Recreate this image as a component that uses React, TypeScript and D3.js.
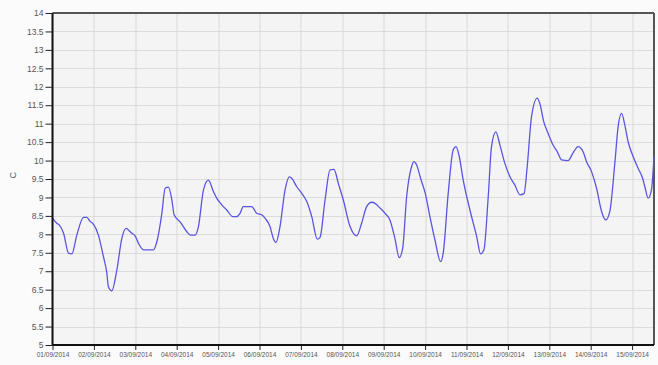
import React, { useEffect, useRef } from 'react';
import * as d3 from 'd3';

// hours since 01/09/2014 00:00 and temperature (C)
const hours = [
  0, 2.5, 4, 6.4, 9.3, 11.2, 14.1, 18, 19.9, 21.8, 23.8, 26.6, 29.5, 31.5, 32.4, 34.4,
  37.3, 40.2, 42.7, 44, 46, 47.9, 49.8, 52.7, 58.5, 60.5, 63.4, 65.3, 67.2, 69.2, 70.5,
  74, 77.9, 79.8, 82.7, 84.6, 87.5, 90.4, 93.3, 95.2, 98.1, 101, 104.5, 106.8, 108.7,
  110.6, 115.5, 118.4, 121.3, 123.2, 126.1, 128, 129.6, 131.9, 134.8, 137.3, 138.7,
  141.6, 144.5, 147.4, 150.3, 153.5, 155.1, 158, 160.9, 163.2, 165.7, 168.6, 172.5,
  176.3, 179.2, 182.1, 185, 187, 189.9, 192.8, 195.6, 198.5, 201, 203, 205.3, 208.2,
  209.5, 211.1, 213.5, 216.1, 218.8, 221.7, 225, 226.5, 229.4, 232.3, 233.9, 235.8,
  238.1, 242, 245.9, 248.2, 250.1, 252.6, 254.5, 257, 259.4, 262.2, 265.2, 268, 271,
  273.4, 275.2, 277.7, 281, 282.5, 284.8, 287.3, 290.2, 292.6, 295.1, 298.9, 301.8,
  304.7, 307.6, 309.6, 312.5, 315.4, 318.3, 320.8, 323.1, 326, 327.9, 329.9, 331.8,
  333.7, 336.6, 339.5, 342.1, 343.4, 345.3, 347.2, 348.7,
];
const temps = [
  8.44, 8.3, 8.25, 8.03, 7.49, 7.47, 7.98, 8.46, 8.46, 8.35, 8.27, 7.98, 7.4, 6.95, 6.58, 6.47,
  7.03, 7.89, 8.16, 8.12, 8.03, 7.96, 7.76, 7.58, 7.58, 7.8, 8.57, 9.25, 9.28, 8.93, 8.53,
  8.34, 8.07, 7.98, 7.98, 8.21, 9.2, 9.47, 9.16, 8.98, 8.8, 8.66, 8.48, 8.48, 8.57,
  8.75, 8.75, 8.57, 8.53, 8.44, 8.21, 7.89, 7.78, 8.21, 9.2, 9.56, 9.52,
  9.29, 9.11, 8.89, 8.48, 7.87, 7.92, 8.93, 9.75, 9.76, 9.38, 8.93, 8.21,
  7.96, 8.3, 8.75, 8.87, 8.84, 8.71, 8.57, 8.39, 7.89, 7.37, 7.62, 9.02, 9.84,
  9.97, 9.88, 9.5, 9.11, 8.48, 7.85, 7.26, 7.49, 9.11, 10.29, 10.38, 10.11,
  9.47, 8.66, 7.94, 7.47, 7.58, 9.02, 10.38, 10.78, 10.42, 9.93, 9.56, 9.34, 9.07,
  9.11, 9.84, 11.19, 11.69, 11.55, 11.05, 10.74, 10.42, 10.24, 10.02, 10.0, 10.21,
  10.38, 10.24, 9.97, 9.7, 9.25, 8.62, 8.39, 8.62, 9.93, 10.92, 11.28, 10.96,
  10.51, 10.11, 9.79, 9.52, 9.29, 8.98, 9.2, 10.1,
];
const dayLabels = [
  '01/09/2014', '02/09/2014', '03/09/2014', '04/09/2014', '05/09/2014',
  '06/09/2014', '07/09/2014', '08/09/2014', '09/09/2014', '10/09/2014',
  '11/09/2014', '12/09/2014', '13/09/2014', '14/09/2014', '15/09/2014',
];
const yTicks = d3.range(5, 14.01, 0.5);

const App = () => {
  const ref = useRef<SVGSVGElement>(null);

  useEffect(() => {
    const W = 658, H = 365;
    const margin = { top: 13, right: 4, bottom: 20, left: 52.5 };
    const width = W - margin.left - margin.right;
    const height = H - margin.top - margin.bottom;

    const svg = d3.select(ref.current);
    svg.selectAll('*').remove();

    const g = svg.append('g').attr('transform', `translate(${margin.left},${margin.top})`);

    const t0 = new Date(2014, 8, 1);
    const toDate = (h: number) => new Date(t0.getTime() + h * 3600e3);
    const data = hours.map((h, i) => ({ date: toDate(h), value: temps[i] }));

    const xScale = d3.scaleTime().domain([t0, toDate(348.7)]).range([0, width]);
    const yScale = d3.scaleLinear().domain([5, 14]).range([height, 0]);
    const dayDates = dayLabels.map((_, i) => toDate(i * 24));

    // plot background
    g.append('rect')
      .attr('width', width).attr('height', height)
      .attr('fill', '#f4f4f4');

    // grid
    g.append('g').selectAll('line').data(yTicks).join('line')
      .attr('x1', 0).attr('x2', width)
      .attr('y1', (d) => Math.round(yScale(d)) + 0.5).attr('y2', (d) => Math.round(yScale(d)) + 0.5)
      .attr('stroke', '#dcdcdc');
    g.append('g').selectAll('line').data(dayDates).join('line')
      .attr('x1', (d) => Math.round(xScale(d)) + 0.5).attr('x2', (d) => Math.round(xScale(d)) + 0.5)
      .attr('y1', 0).attr('y2', height)
      .attr('stroke', '#d8d8d8');

    // frame
    g.append('line').attr('x1', 0).attr('x2', width).attr('y1', 0).attr('y2', 0)
      .attr('stroke', '#555').attr('stroke-width', 2);
    g.append('line').attr('x1', width).attr('x2', width).attr('y1', 0).attr('y2', height)
      .attr('stroke', '#555').attr('stroke-width', 2);

    // line
    const line = d3.line<{ date: Date; value: number }>()
      .x((d) => xScale(d.date))
      .y((d) => yScale(d.value))
      .curve(d3.curveMonotoneX);

    g.append('path')
      .datum(data)
      .attr('fill', 'none')
      .attr('stroke', '#5a55e0')
      .attr('stroke-width', 1.3)
      .attr('d', line);

    // axes
    const yAxis = g.append('g')
      .call(d3.axisLeft(yScale).tickValues(yTicks).tickSize(7).tickPadding(2)
        .tickFormat((d) => String(+d)));
    const xAxis = g.append('g')
      .attr('transform', `translate(0,${height})`)
      .call(d3.axisBottom(xScale).tickValues(dayDates).tickSize(5).tickPadding(2)
        .tickFormat((_, i) => dayLabels[i]));

    [yAxis, xAxis].forEach((a) => {
      a.select('.domain').attr('stroke', '#111').attr('stroke-width', 2);
      a.selectAll('.tick line').attr('stroke', '#222');
      a.selectAll('.tick text')
        .attr('fill', '#555')
        .attr('font-family', 'Liberation Sans, Arial, sans-serif');
    });
    yAxis.selectAll('.tick text').attr('font-size', 8.5);
    xAxis.selectAll('.tick text').attr('font-size', 6.5);
    yAxis.select('.domain').attr('d', `M0,${height}V0`);
    xAxis.select('.domain').attr('d', `M0,0H${width}`);

    // y label
    svg.append('text')
      .attr('transform', `translate(16,${margin.top + yScale(9.6)}) rotate(-90)`)
      .attr('text-anchor', 'middle')
      .attr('font-size', 9)
      .attr('fill', '#555')
      .attr('font-family', 'Liberation Sans, Arial, sans-serif')
      .text('C');
  }, []);

  return (
    <svg
      ref={ref}
      width={658}
      height={365}
      style={{ position: 'absolute', left: 0, top: 0, background: '#fbfbfb' }}
    />
  );
};

export default App;
